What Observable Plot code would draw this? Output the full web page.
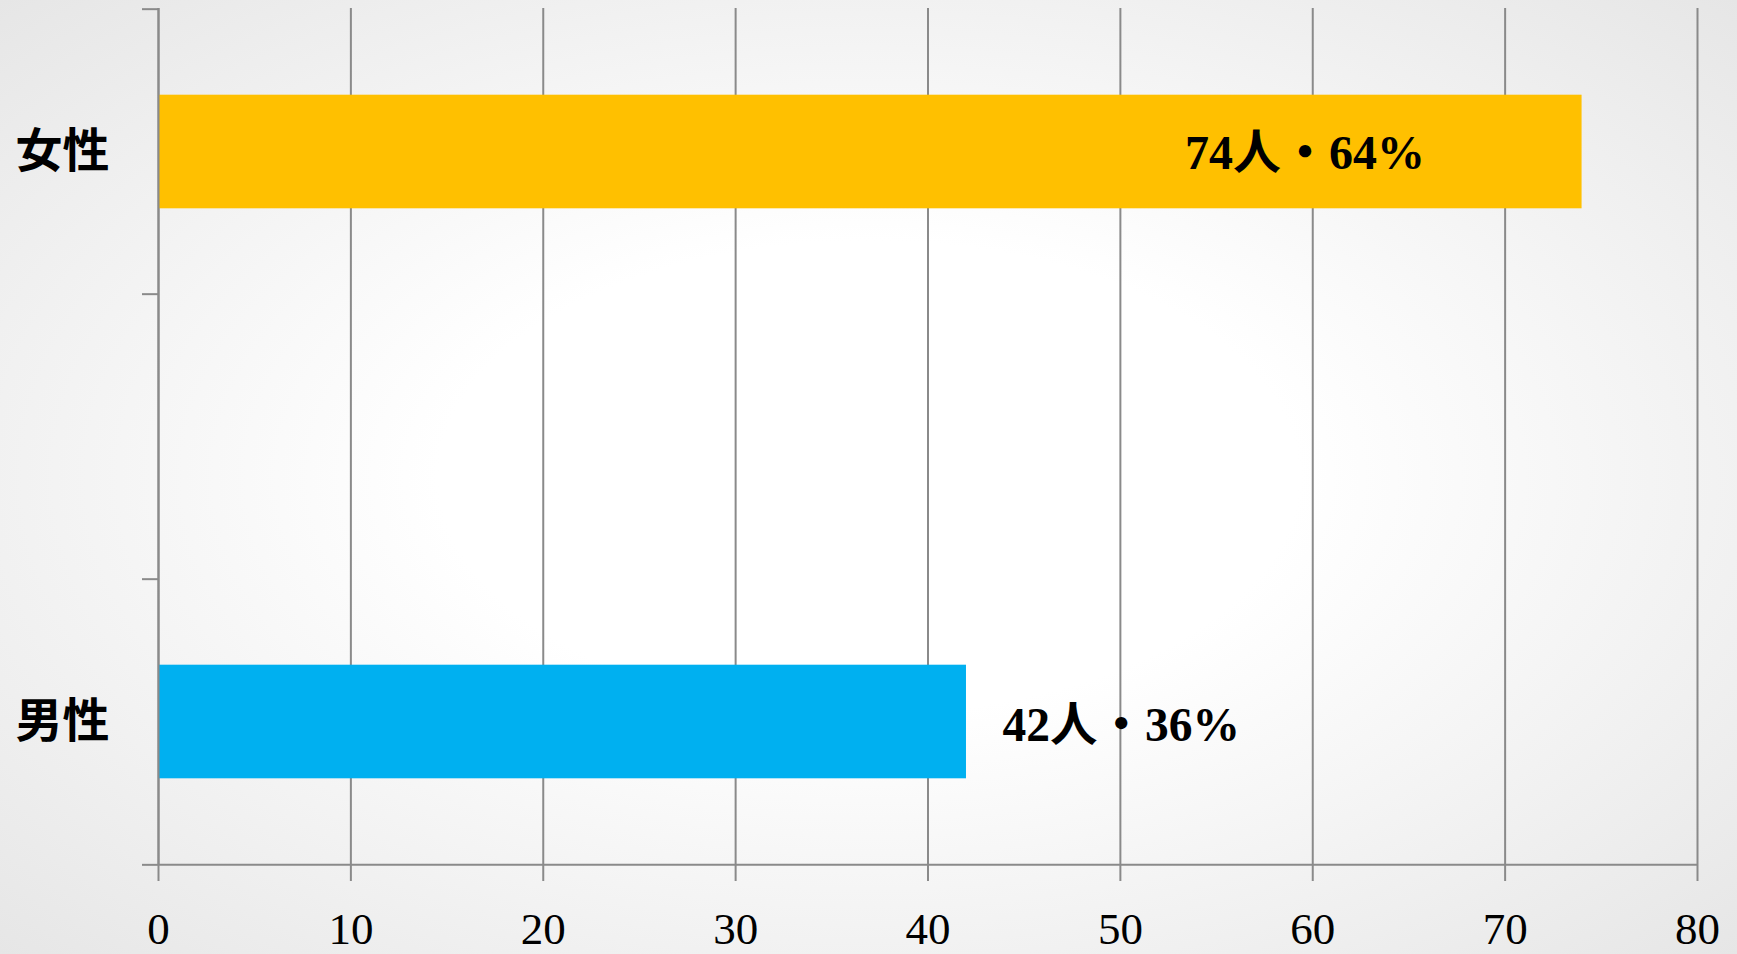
<!DOCTYPE html>
<html><head><meta charset="utf-8">
<script src="https://cdn.jsdelivr.net/npm/d3@7"></script>
<script src="https://cdn.jsdelivr.net/npm/@observablehq/plot@0.6"></script>
<style>
html,body{margin:0;padding:0;}
body{width:1737px;height:954px;background:radial-gradient(ellipse at 50% 50%, #ffffff 35%, #e6e6e6 100%);overflow:hidden;}
#chart svg{display:block;}
</style></head><body><div id="chart"></div>
<script>
const categories = ["女性", " ", "男性"];
const counts = [74, null, 42];
const labels = ["74人・64%", null, "42人・36%"];
const barColors = ["#FFC000", "#00B0F0"];
const xTicks = [0, 10, 20, 30, 40, 50, 60, 70, 80];

const rows = categories.map((c, i) => ({category: c, count: counts[i], label: labels[i]})).filter(d => d.count != null);

const W = 1737, H = 954, mt = 8, mb = 89, ml = 158, mr = 40;
const bw = (H - mt - mb) / categories.length;
const gray = "#8a8a8a";
const serif = "'Liberation Serif', 'Noto Sans CJK JP', serif";
const cjk = "'Noto Sans CJK JP', sans-serif";

const chart = Plot.plot({
  width: W, height: H,
  marginTop: mt, marginBottom: mb, marginLeft: ml, marginRight: mr,
  style: {background: "transparent", overflow: "visible"},
  x: {domain: [0, 80]},
  y: {domain: categories, padding: 0},
  color: {domain: rows.map(d => d.category), range: barColors},
  marks: [
    Plot.gridX(xTicks, {stroke: gray, strokeOpacity: 1, strokeWidth: 2}),
    Plot.barX(rows, {x: "count", y: "category", fill: "category", insetTop: bw * 0.3, insetBottom: bw * 0.3}),
    Plot.ruleX([0], {stroke: gray, strokeWidth: 2}),
    Plot.ruleY([categories[categories.length - 1]], {dy: bw / 2, stroke: gray, strokeWidth: 2}),
    Plot.axisY({tickSize: 16, dy: -bw / 2, tickFormat: () => "", stroke: gray, strokeWidth: 2, label: null}),
    Plot.axisY([categories[categories.length - 1]], {tickSize: 16, dy: bw / 2, tickFormat: () => "", stroke: gray, strokeWidth: 2, label: null}),
    Plot.axisY({tickSize: 0, tickPadding: 49, fontSize: 47, fontWeight: "bold", fontFamily: cjk, fill: "black", label: null}),
    Plot.axisX(xTicks, {tickSize: 16, tickPadding: 31, fontSize: 45, fontFamily: serif, stroke: gray, strokeWidth: 2, fill: "black", label: null}),
    Plot.text(rows.filter(d => d.category === "女性"), {x: "count", y: "category", text: "label", textAnchor: "end", dx: -157, dy: 2, fontSize: 48, fontWeight: "bold", fontFamily: serif, fill: "black"}),
    Plot.text(rows.filter(d => d.category === "男性"), {x: "count", y: "category", text: "label", textAnchor: "start", dx: 36, dy: 4, fontSize: 47.5, fontWeight: "bold", fontFamily: serif, fill: "black"})
  ]
});
document.getElementById("chart").append(chart);
</script>
</body></html>
